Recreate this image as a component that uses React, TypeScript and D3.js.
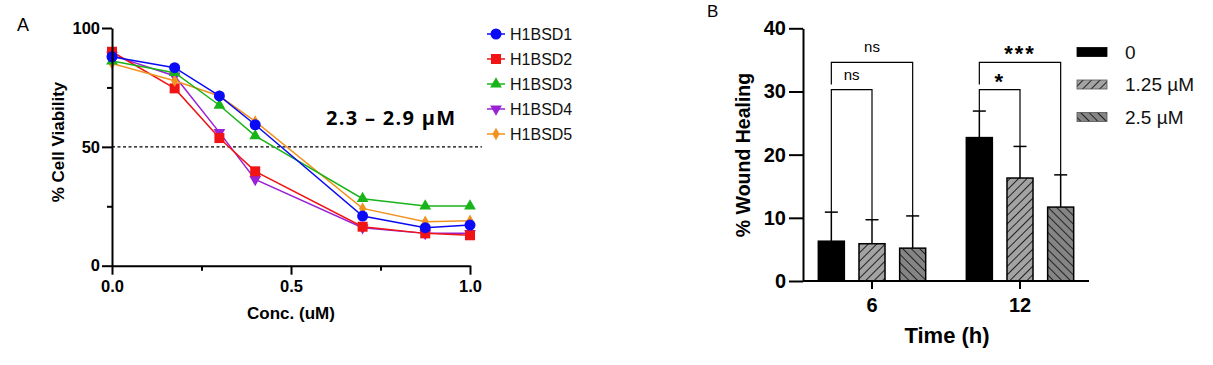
import React from "react";
import * as d3 from "d3";

// Panel A: dose response
const concs = [0, 0.175, 0.3, 0.4, 0.7, 0.875, 1.0];
const seriesNames = ["H1BSD1", "H1BSD2", "H1BSD3", "H1BSD4", "H1BSD5"];
const h1bsd1 = [87.9, 83.3, 71.4, 59.3, 20.9, 16.0, 17.1];
const h1bsd2 = [90.0, 74.6, 53.7, 39.7, 16.4, 13.6, 12.8];
const h1bsd3 = [86.1, 81.2, 67.5, 54.6, 28.2, 25.1, 25.1];
const h1bsd4 = [88.6, 79.8, 56.1, 36.3, 16.0, 13.6, 13.6];
const h1bsd5 = [85.1, 77.8, 71.4, 60.7, 24.1, 18.5, 18.9];
const xTicksA = [0, 0.5, 1];
const yTicksA = [0, 50, 100];

// Panel B: wound healing
const times = ["6", "12"];
const doses = ["0", "1.25 \u00b5M", "2.5 \u00b5M"];
const means6 = [6.3, 5.9, 5.2];
const means12 = [22.7, 16.3, 11.7];
const sd6 = [4.6, 3.8, 5.1];
const sd12 = [4.2, 5.0, 5.1];
const yTicksB = [0, 10, 20, 30, 40];
const brackets = [
  { time: "6", a: 0, b: 1, level: 30.3, label: "ns" },
  { time: "6", a: 0, b: 2, level: 34.6, label: "ns" },
  { time: "12", a: 0, b: 1, level: 30.3, label: "*" },
  { time: "12", a: 0, b: 2, level: 34.6, label: "***" },
];

const FONT = "'Liberation Sans', Arial, sans-serif";

const App = () => {
  const svgRef = React.useRef(null);

  React.useEffect(() => {
    const svg = d3.select(svgRef.current);
    svg.selectAll("*").remove();

    // ---------- panel A ----------
    const xA = d3.scaleLinear().domain([0, 1]).range([112, 470]);
    const yA = d3.scaleLinear().domain([0, 100]).range([265.7, 28]);
    const colors = ["#0a0af5", "#f01414", "#19b419", "#9a22d6", "#f29220"];
    const symbols = [
      d3.symbol().type(d3.symbolCircle).size(95),
      d3.symbol().type(d3.symbolSquare).size(100),
      d3.symbol().type(d3.symbolTriangle).size(60),
      d3.symbol().type(d3.symbolTriangle).size(60),
      d3.symbol().type(d3.symbolDiamond).size(45),
    ];
    const rot = [0, 0, 0, 180, 0];
    const seriesA = [h1bsd1, h1bsd2, h1bsd3, h1bsd4, h1bsd5];

    svg.append("text").attr("x", 17).attr("y", 31).attr("font-family", FONT)
      .attr("font-size", 18).text("A");

    // dashed 50% line
    svg.append("line").attr("x1", xA(0)).attr("x2", 482)
      .attr("y1", yA(50)).attr("y2", yA(50))
      .attr("stroke", "#000").attr("stroke-width", 1.2).attr("stroke-dasharray", "3,2.5");

    const line = d3.line().x((d) => xA(d[0])).y((d) => yA(d[1]));
    // draw order keeps blue on top like the picture
    [3, 1, 4, 2, 0].forEach((i) => {
      const pts = concs.map((c, j) => [c, seriesA[i][j]]);
      svg.append("path").attr("d", line(pts)).attr("fill", "none")
        .attr("stroke", colors[i]).attr("stroke-width", 1.5);
      svg.append("g").selectAll("path").data(pts).enter().append("path")
        .attr("d", symbols[i]())
        .attr("transform", (d) => `translate(${xA(d[0])},${yA(d[1])}) rotate(${rot[i]})`)
        .attr("fill", colors[i]);
    });

    const axA = svg.append("g").attr("font-family", FONT);
    const yAxisA = axA.append("g").attr("transform", `translate(${xA(0)},0)`)
      .call(d3.axisLeft(yA).tickValues(yTicksA).tickSize(10).tickSizeOuter(0).tickPadding(2));
    axA.append("g").attr("transform", `translate(${xA(0)},0)`)
      .call(d3.axisLeft(yA).tickValues([25, 75]).tickSize(5).tickSizeOuter(0).tickFormat(() => ""))
      .select(".domain").remove();
    const xAxisA = axA.append("g").attr("transform", `translate(0,${yA(0)})`)
      .call(d3.axisBottom(xA).tickValues(xTicksA).tickSize(9).tickSizeOuter(0).tickPadding(6)
        .tickFormat(d3.format(".1f")));
    axA.append("g").attr("transform", `translate(0,${yA(0)})`)
      .call(d3.axisBottom(xA).tickValues([0.25, 0.75]).tickSize(5).tickSizeOuter(0).tickFormat(() => ""))
      .select(".domain").remove();
    axA.selectAll("path, line").attr("stroke", "#000").attr("stroke-width", 2);
    [yAxisA, xAxisA].forEach((g) => g.selectAll("text").attr("font-size", 16.5)
      .attr("font-weight", "bold").attr("fill", "#000").attr("font-family", FONT));

    svg.append("text").attr("transform", "translate(58,142) rotate(-90)")
      .attr("text-anchor", "middle").attr("dy", "0.35em").attr("font-family", FONT)
      .attr("font-weight", "bold").attr("font-size", 17).text("% Cell Viability");
    svg.append("text").attr("x", xA(0.5)).attr("y", 319).attr("text-anchor", "middle")
      .attr("font-family", FONT).attr("font-weight", "bold").attr("font-size", 17).text("Conc. (uM)");
    svg.append("text").attr("x", 326).attr("y", 125).attr("font-family", "'Open Sans', sans-serif")
      .attr("font-weight", "bold").attr("font-size", 20).attr("textLength", 129)
      .text("2.3 \u2013 2.9 \u00b5M");

    // legend A
    const legA = svg.append("g").attr("font-family", FONT);
    seriesNames.forEach((name, i) => {
      const y = 34 + i * 25;
      legA.append("line").attr("x1", 487).attr("x2", 505).attr("y1", y).attr("y2", y)
        .attr("stroke", colors[i]).attr("stroke-width", 1.5);
      legA.append("path").attr("d", symbols[i]())
        .attr("transform", `translate(496,${y}) rotate(${rot[i]})`).attr("fill", colors[i]);
      legA.append("text").attr("x", 510).attr("y", y).attr("dy", "0.36em")
        .attr("font-size", 16).attr("fill", "#111").text(name);
    });

    // ---------- panel B ----------
    const x0 = d3.scaleBand().domain(times).range([798, 1094]);
    const x1 = d3.scaleBand().domain(doses).range([-61, 61]).paddingInner(0.36).paddingOuter(0.18);
    const yB = d3.scaleLinear().domain([0, 40]).range([281, 28.3]);
    const cx = (t, k) => x0(t) + x0.bandwidth() / 2 + x1(doses[k]) + x1.bandwidth() / 2;
    const meansBy = { "6": means6, "12": means12 };
    const sdBy = { "6": sd6, "12": sd12 };

    svg.append("text").attr("x", 707).attr("y", 17).attr("font-family", FONT)
      .attr("font-size", 17).text("B");

    const defs = svg.append("defs");
    const mkPat = (id, fill, angle) => {
      const p = defs.append("pattern").attr("id", id).attr("patternUnits", "userSpaceOnUse")
        .attr("width", 6).attr("height", 6).attr("patternTransform", `rotate(${angle})`);
      p.append("rect").attr("width", 6).attr("height", 6).attr("fill", fill);
      p.append("line").attr("x1", 0).attr("x2", 0).attr("y1", 0).attr("y2", 6)
        .attr("stroke", "#222").attr("stroke-width", 2);
    };
    mkPat("hatch1", "#a3a3a3", 45);
    mkPat("hatch2", "#858585", -45);
    const fills = ["#000", "url(#hatch1)", "url(#hatch2)"];

    times.forEach((t) => {
      doses.forEach((dose, k) => {
        const m = meansBy[t][k];
        const top = m + sdBy[t][k];
        const c = cx(t, k);
        svg.append("line").attr("x1", c).attr("x2", c).attr("y1", yB(m)).attr("y2", yB(top))
          .attr("stroke", "#000").attr("stroke-width", 1.5);
        svg.append("line").attr("x1", c - 6.5).attr("x2", c + 6.5).attr("y1", yB(top)).attr("y2", yB(top))
          .attr("stroke", "#000").attr("stroke-width", 1.5);
        svg.append("rect").attr("x", x0(t) + x0.bandwidth() / 2 + x1(dose)).attr("y", yB(m))
          .attr("width", x1.bandwidth()).attr("height", yB(0) - yB(m))
          .attr("fill", fills[k]).attr("stroke", "#000").attr("stroke-width", 1.5);
      });
    });

    // significance brackets
    brackets.forEach((b) => {
      const xa = cx(b.time, b.a);
      const xb = cx(b.time, b.b);
      const yTop = yB(b.level);
      const inner = brackets.find((o) => o.time === b.time && o.a === b.a && o.level < b.level);
      const leftEnd = inner ? yB(inner.level) - 5 : yB(meansBy[b.time][b.a] + sdBy[b.time][b.a]);
      const rightEnd = yB(meansBy[b.time][b.b] + sdBy[b.time][b.b]);
      svg.append("path")
        .attr("d", `M${xa},${leftEnd}V${yTop}H${xb}V${rightEnd}`)
        .attr("fill", "none").attr("stroke", "#000").attr("stroke-width", 1.2);
      const star = b.label !== "ns";
      svg.append("text").attr("x", (xa + xb) / 2).attr("y", star ? yTop - 1 : yTop - 10)
        .attr("text-anchor", "middle").attr("font-family", FONT)
        .attr("font-size", star ? 22 : 15).attr("font-weight", star ? "bold" : "normal")
        .attr("letter-spacing", star ? 2 : 0)
        .text(b.label);
    });

    const axB = svg.append("g");
    const yAxisB = axB.append("g").attr("transform", "translate(803,0)")
      .call(d3.axisLeft(yB).tickValues(yTicksB).tickSize(14).tickSizeOuter(0).tickPadding(3));
    axB.append("line").attr("x1", 803).attr("x2", 1089).attr("y1", yB(0)).attr("y2", yB(0));
    const xAxisB = axB.append("g").attr("transform", `translate(0,${yB(0)})`)
      .call(d3.axisBottom(x0).tickSize(8).tickSizeOuter(0).tickPadding(9));
    xAxisB.select(".domain").remove();
    axB.selectAll("path, line").attr("stroke", "#000").attr("stroke-width", 2);
    [yAxisB, xAxisB].forEach((g) => g.selectAll("text").attr("font-size", 20)
      .attr("font-weight", "bold").attr("fill", "#000").attr("font-family", FONT));

    svg.append("text").attr("transform", "translate(743,155) rotate(-90)")
      .attr("text-anchor", "middle").attr("dy", "0.35em").attr("font-family", FONT)
      .attr("font-weight", "bold").attr("font-size", 19.5).text("% Wound Healing");
    svg.append("text").attr("x", 947).attr("y", 343).attr("text-anchor", "middle")
      .attr("font-family", FONT).attr("font-weight", "bold").attr("font-size", 22).text("Time (h)");

    // legend B
    doses.forEach((dose, k) => {
      const y = 52 + k * 32.5;
      svg.append("rect").attr("x", 1077).attr("y", y - 4.5).attr("width", 30).attr("height", 9)
        .attr("fill", fills[k]).attr("stroke", k ? "#555" : "#000").attr("stroke-width", 0.8);
      svg.append("text").attr("x", 1125).attr("y", y).attr("dy", "0.36em")
        .attr("font-family", FONT).attr("font-size", 19).attr("fill", "#111").text(dose);
    });
  }, []);

  return (
    <div style={{ position: "absolute", left: 0, top: 0 }}>
      <svg ref={svgRef} width={1213} height={365} style={{ display: "block", background: "#fff" }} />
    </div>
  );
};

export default App;
